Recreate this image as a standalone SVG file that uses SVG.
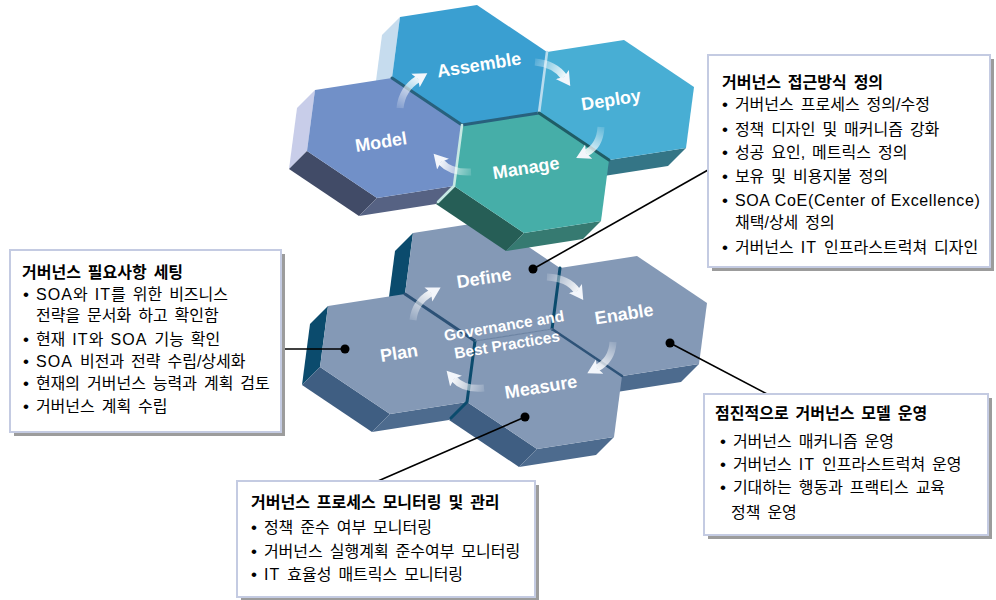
<svg xmlns="http://www.w3.org/2000/svg" width="996" height="600" viewBox="0 0 996 600">
<style>
.lbl{font-family:"Liberation Sans",Arial,sans-serif;font-weight:bold;font-size:18px;fill:#fff;text-anchor:middle}
.gov{font-size:15.5px}
.t{font-family:"Liberation Sans","Noto Sans CJK KR",sans-serif;font-size:16px;fill:#000;word-spacing:2.5px}
.h{font-weight:bold;font-size:16px}
.l{font-size:16px;letter-spacing:1.1px;word-spacing:0}
.l2{font-size:16px;letter-spacing:.65px;word-spacing:0}
.b{font-size:17px}
.box{fill:#fff;stroke:#c4cbe2;stroke-width:2}
.sh{fill:#9c9c9c}
.seam{fill:none;stroke-linecap:round;stroke-linejoin:round}
.arr{fill:none;stroke-width:7}
.lead{stroke:#000;stroke-width:1.6;fill:none}
</style>
<defs>
<path id="top" d="M0,0 L77,-12 L147,35 L139,96 L62,108 L-8,61 Z"/>
<path id="fl" d="M0,0 L-8,61 L-26,79 L-18,18 Z"/>
<path id="fll" d="M-8,61 L62,108 L44,126 L-26,79 Z"/>
<path id="fb" d="M62,108 L139,96 L121,114 L44,126 Z"/>
<marker id="ah" markerUnits="userSpaceOnUse" markerWidth="18" markerHeight="18" viewBox="0 0 18 18" refX="3" refY="9" orient="auto">
<path d="M0,1 L14,9 L0,17 L3,9 Z" fill="#f3f6fb"/>
</marker>
<linearGradient id="g1" gradientUnits="userSpaceOnUse" x1="400" y1="108" x2="418" y2="79"><stop offset="0" stop-color="#fff" stop-opacity="0.15"/><stop offset="1" stop-color="#fff" stop-opacity="0.9"/></linearGradient>
<linearGradient id="g2" gradientUnits="userSpaceOnUse" x1="535" y1="62" x2="564" y2="77"><stop offset="0" stop-color="#fff" stop-opacity="0.15"/><stop offset="1" stop-color="#fff" stop-opacity="0.9"/></linearGradient>
<linearGradient id="g3" gradientUnits="userSpaceOnUse" x1="601" y1="127" x2="586" y2="153"><stop offset="0" stop-color="#fff" stop-opacity="0.15"/><stop offset="1" stop-color="#fff" stop-opacity="0.9"/></linearGradient>
<linearGradient id="g4" gradientUnits="userSpaceOnUse" x1="471" y1="172" x2="441" y2="162"><stop offset="0" stop-color="#fff" stop-opacity="0.15"/><stop offset="1" stop-color="#fff" stop-opacity="0.9"/></linearGradient>
<linearGradient id="g5" gradientUnits="userSpaceOnUse" x1="413" y1="320" x2="431" y2="293"><stop offset="0" stop-color="#fff" stop-opacity="0.15"/><stop offset="1" stop-color="#fff" stop-opacity="0.9"/></linearGradient>
<linearGradient id="g6" gradientUnits="userSpaceOnUse" x1="547" y1="277" x2="577" y2="291"><stop offset="0" stop-color="#fff" stop-opacity="0.15"/><stop offset="1" stop-color="#fff" stop-opacity="0.9"/></linearGradient>
<linearGradient id="g7" gradientUnits="userSpaceOnUse" x1="613" y1="342" x2="597" y2="368"><stop offset="0" stop-color="#fff" stop-opacity="0.15"/><stop offset="1" stop-color="#fff" stop-opacity="0.9"/></linearGradient>
<linearGradient id="g8" gradientUnits="userSpaceOnUse" x1="484" y1="388" x2="454" y2="379"><stop offset="0" stop-color="#fff" stop-opacity="0.15"/><stop offset="1" stop-color="#fff" stop-opacity="0.9"/></linearGradient>
</defs>
<rect width="996" height="600" fill="#fff"/>

<g id="lower-cluster">
<g id="node-define" transform="translate(413,233)">
<use href="#fl" fill="#0b4b6d"/>
<use href="#top" fill="#8499b6"/>
<text class="lbl" transform="translate(71,45) rotate(-9)" y="6">Define</text>
</g>
<g id="node-enable" transform="translate(560,268)">
<use href="#fb" fill="#4d6b8e"/>
<use href="#top" fill="#8499b6"/>
<text class="lbl" transform="translate(64,46) rotate(-9)" y="6">Enable</text>
</g>
<g id="node-plan" transform="translate(328,306)">
<use href="#fl" fill="#0b4b6d"/>
<use href="#fll" fill="#3f5e82"/>
<use href="#fb" fill="#4d6b8e"/>
<use href="#top" fill="#8499b6"/>
<text class="lbl" transform="translate(71,47) rotate(-9)" y="6">Plan</text>
</g>
<g id="node-measure" transform="translate(475,341)">
<use href="#fll" fill="#3f5e82"/>
<use href="#fb" fill="#4d6b8e"/>
<use href="#top" fill="#8499b6"/>
<text class="lbl" transform="translate(66,46) rotate(-9)" y="6">Measure</text>
</g>
<g id="lower-seams" class="seam">
<path d="M405,294 L475,341" stroke="#2c5176" stroke-width="3"/>
<path d="M560,268 L552,329" stroke="#0b4b6d" stroke-width="3"/>
<path d="M552,329 L622,376" stroke="#2e5378" stroke-width="2.6"/>
<path d="M475,341 L467,402 L451,418" stroke="#0b4b6d" stroke-width="3"/>
<path d="M475,341 L552,329" stroke="#6d84a3" stroke-width="1.2"/>
</g>
<g id="center-label" class="lbl gov">
<text transform="translate(504,326) rotate(-9.5)" y="5">Governance and</text>
<text transform="translate(507,345) rotate(-9.5)" y="5">Best Practices</text>
</g>
</g>

<g id="upper-cluster">
<g id="node-assemble" transform="translate(400,17)">
<use href="#fl" fill="#c6dcee"/>
<use href="#top" fill="#3a9fd1"/>
<text class="lbl" transform="translate(79,48) rotate(-9)" y="6">Assemble</text>
</g>
<g id="node-deploy" transform="translate(547,52)">
<use href="#fb" fill="#347586"/>
<use href="#top" fill="#48aed4"/>
<text class="lbl" transform="translate(64,48) rotate(-9)" y="6">Deploy</text>
</g>
<g id="node-model" transform="translate(315,90)">
<use href="#fl" fill="#c8cde9"/>
<use href="#fll" fill="#414b67"/>
<use href="#fb" fill="#566283"/>
<use href="#top" fill="#7190c8"/>
<text class="lbl" transform="translate(66,52) rotate(-9)" y="6">Model</text>
</g>
<g id="node-manage" transform="translate(462,125)">
<use href="#fll" fill="#265e56"/>
<use href="#fb" fill="#367a71"/>
<use href="#top" fill="#46aea8"/>
<text class="lbl" transform="translate(64,43) rotate(-9)" y="6">Manage</text>
</g>
<g id="upper-seams" class="seam">
<path d="M392,78 L462,125 L539,113" stroke="#28617d" stroke-width="3"/>
<path d="M547,52 L539,113" stroke="#b9dcee" stroke-width="2.6"/>
<path d="M539,113 L609,160" stroke="#1f5d66" stroke-width="3"/>
<path d="M462,125 L454,186 L438,202" stroke="#c6e8e3" stroke-width="2.6"/>
</g>
</g>

<g id="cycle-arrows" marker-end="url(#ah)">
<path class="arr" d="M400,108 Q402,89 418,79" stroke="url(#g1)"/>
<path class="arr" d="M535,62 Q555,64 564,77" stroke="url(#g2)"/>
<path class="arr" d="M601,127 Q600,146 586,153" stroke="url(#g3)"/>
<path class="arr" d="M471,172 Q451,173 441,162" stroke="url(#g4)"/>
<path class="arr" d="M413,320 Q415,302 431,293" stroke="url(#g5)"/>
<path class="arr" d="M547,277 Q568,278 577,291" stroke="url(#g6)"/>
<path class="arr" d="M613,342 Q612,360 597,368" stroke="url(#g7)"/>
<path class="arr" d="M484,388 Q464,390 454,379" stroke="url(#g8)"/>
</g>

<g id="connectors">
<path class="lead" d="M533,269 L708,170"/>
<path class="lead" d="M283,349 L345,349"/>
<path class="lead" d="M670,343 L767,394"/>
<path class="lead" d="M525,417 L378,481"/>
<circle cx="533" cy="269" r="4.5"/>
<circle cx="345" cy="349" r="4.5"/>
<circle cx="670" cy="343" r="4.5"/>
<circle cx="525" cy="417" r="4.5"/>
</g>

<g id="box-requirements">
<rect class="sh" x="14" y="254" width="271" height="182"/>
<rect class="box" x="10" y="250" width="271" height="182"/>
<text class="t h" x="22" y="278">거버넌스 필요사항 세팅</text>
<text class="t" x="23" y="300"><tspan class="b">•</tspan> <tspan class="l">SOA</tspan>와 <tspan class="l">IT</tspan>를 위한 비즈니스</text>
<text class="t" x="36" y="321">전략을 문서화 하고 확인함</text>
<text class="t" x="23" y="345"><tspan class="b">•</tspan> 현재 <tspan class="l">IT</tspan>와 <tspan class="l">SOA</tspan> 기능 확인</text>
<text class="t" x="23" y="367"><tspan class="b">•</tspan> <tspan class="l">SOA</tspan> 비전과 전략 수립/상세화</text>
<text class="t" x="23" y="389"><tspan class="b">•</tspan> 현재의 거버넌스 능력과 계획 검토</text>
<text class="t" x="23" y="412"><tspan class="b">•</tspan> 거버넌스 계획 수립</text>
</g>

<g id="box-approach">
<rect class="sh" x="712" y="59" width="282" height="212"/>
<rect class="box" x="708" y="55" width="282" height="212"/>
<text class="t h" x="722" y="88">거버넌스 접근방식 정의</text>
<text class="t" x="722" y="110"><tspan class="b">•</tspan> 거버넌스 프로세스 정의/수정</text>
<text class="t" x="722" y="135"><tspan class="b">•</tspan> 정책 디자인 및 매커니즘 강화</text>
<text class="t" x="722" y="158"><tspan class="b">•</tspan> 성공 요인, 메트릭스 정의</text>
<text class="t" x="722" y="182"><tspan class="b">•</tspan> 보유 및 비용지불 정의</text>
<text class="t" x="722" y="206"><tspan class="b">•</tspan> <tspan class="l2">SOA CoE(Center of Excellence)</tspan></text>
<text class="t" x="735" y="228">채택/상세 정의</text>
<text class="t" x="722" y="253"><tspan class="b">•</tspan> 거버넌스 <tspan class="l">IT</tspan> 인프라스트럭쳐 디자인</text>
</g>

<g id="box-operate">
<rect class="sh" x="708" y="398" width="284" height="141"/>
<rect class="box" x="704" y="394" width="284" height="141"/>
<text class="t h" x="715" y="419">점진적으로 거버넌스 모델 운영</text>
<text class="t" x="720" y="447"><tspan class="b">•</tspan> 거버넌스 매커니즘 운영</text>
<text class="t" x="720" y="470"><tspan class="b">•</tspan> 거버넌스 <tspan class="l">IT</tspan> 인프라스트럭쳐 운영</text>
<text class="t" x="720" y="493"><tspan class="b">•</tspan> 기대하는 행동과 프랙티스 교육</text>
<text class="t" x="731" y="518">정책 운영</text>
</g>

<g id="box-monitor">
<rect class="sh" x="241" y="485" width="298" height="116"/>
<rect class="box" x="237" y="481" width="298" height="116"/>
<text class="t h" x="251" y="508">거버넌스 프로세스 모니터링 및 관리</text>
<text class="t" x="251" y="533"><tspan class="b">•</tspan> 정책 준수 여부 모니터링</text>
<text class="t" x="251" y="557"><tspan class="b">•</tspan> 거버넌스 실행계획 준수여부 모니터링</text>
<text class="t" x="251" y="580"><tspan class="b">•</tspan> <tspan class="l">IT</tspan> 효율성 매트릭스 모니터링</text>
</g>
</svg>
